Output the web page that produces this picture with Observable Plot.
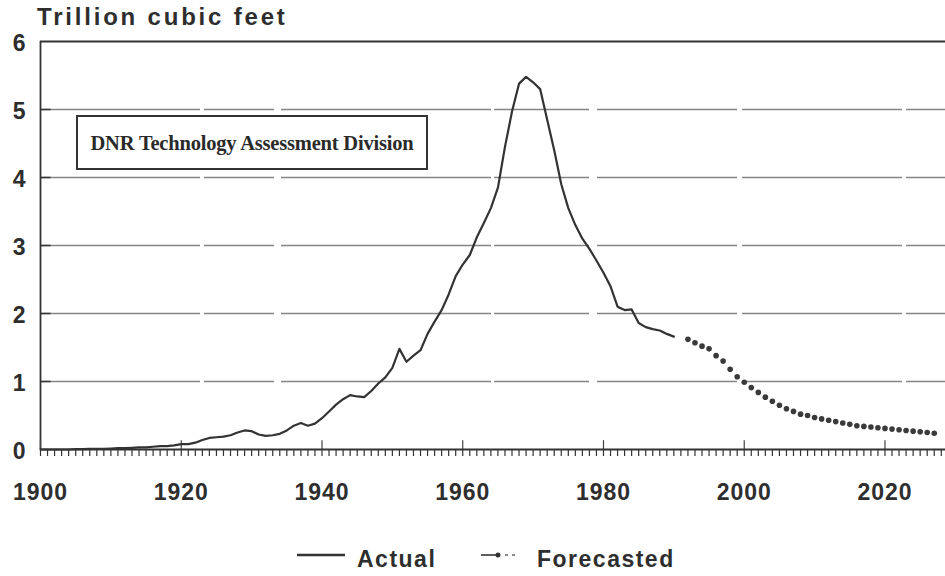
<!DOCTYPE html>
<html><head><meta charset="utf-8">
<script src="https://cdn.jsdelivr.net/npm/d3@7"></script>
<script src="https://cdn.jsdelivr.net/npm/@observablehq/plot@0.6"></script>
<style>
body{margin:0;background:#fff;}
#wrap{position:relative;width:945px;height:576px;overflow:hidden;font-family:"Liberation Sans",Arial,sans-serif;color:#2e2e2e;background:#fff;}
#chart{position:absolute;left:0;top:0;}
.title{position:absolute;left:37px;top:5px;font-size:24px;font-weight:bold;letter-spacing:2.8px;line-height:24px;white-space:nowrap;}
.box{position:absolute;left:76px;top:115px;width:352px;height:55px;border:2px solid #333;box-sizing:border-box;background:#fff;
 font-family:"Liberation Serif","Times New Roman",serif;font-weight:bold;font-size:20.5px;letter-spacing:-0.2px;display:flex;align-items:center;justify-content:center;white-space:nowrap;color:#2a2a2a;padding-top:2px;}
.leg{position:absolute;font-size:23px;font-weight:bold;letter-spacing:1.5px;line-height:23px;white-space:nowrap;}
#legsym{position:absolute;left:0;top:540px;}
</style>
</head><body>
<div id="wrap">
  <div id="chart"></div>
  <div class="title">Trillion cubic feet</div>
  <div class="box">DNR Technology Assessment Division</div>
  <svg id="legsym" width="945" height="30">
    <line x1="297" x2="345" y1="15" y2="15" stroke="#333" stroke-width="2.4"/>
    <line x1="481" x2="496" y1="15" y2="15" stroke="#333" stroke-width="1.6"/>
    <circle cx="498" cy="15" r="2.5" fill="#333"/>
    <line x1="505" x2="508" y1="15" y2="15" stroke="#555" stroke-width="1.4"/>
    <line x1="512" x2="515" y1="15" y2="15" stroke="#555" stroke-width="1.4"/>
  </svg>
  <div class="leg" style="left:357px;top:548px;">Actual</div>
  <div class="leg" style="left:537px;top:548px;">Forecasted</div>
</div>
<script>
// Actual production, 1900–1990 (trillion cubic feet)
const actualYears = d3.range(1900, 1991);
const actualValues = [
  0.00,0.00,0.00,0.00,0.00,0.005,0.005,0.01,0.01,0.01,      // 1900-1909
  0.015,0.02,0.02,0.025,0.03,0.03,0.04,0.05,0.05,0.06,      // 1910-1919
  0.08,0.08,0.10,0.14,0.17,0.18,0.19,0.21,0.25,0.28,        // 1920-1929
  0.27,0.22,0.20,0.21,0.23,0.28,0.35,0.39,0.35,0.38,        // 1930-1939
  0.46,0.56,0.66,0.74,0.80,0.78,0.77,0.86,0.97,1.06,        // 1940-1949
  1.20,1.48,1.29,1.38,1.46,1.70,1.88,2.05,2.28,2.55,        // 1950-1959
  2.72,2.86,3.12,3.33,3.55,3.85,4.45,4.97,5.38,5.48,        // 1960-1969
  5.40,5.30,4.85,4.40,3.90,3.55,3.30,3.10,2.95,2.78,        // 1970-1979
  2.60,2.40,2.10,2.05,2.06,1.86,1.80,1.77,1.75,1.70,        // 1980-1989
  1.66                                                      // 1990
];
// Forecast, 1992–2027
const forecastYears = d3.range(1992, 2028);
const forecastValues = [
  1.62,1.57,1.52,1.48,1.38,1.30,1.18,1.07,0.99,0.91,
  0.84,0.77,0.71,0.65,0.60,0.56,0.52,0.50,0.47,0.45,
  0.43,0.41,0.39,0.37,0.35,0.34,0.33,0.32,0.31,0.30,
  0.29,0.28,0.27,0.26,0.25,0.24
];
const majorYears = [1900, 1920, 1940, 1960, 1980, 2000, 2020];
const minorYears = d3.range(1900, 2029);
const yTicks = [0, 1, 2, 3, 4, 5, 6];
const gridValues = [1, 2, 3, 4, 5];

const actual = actualYears.map((year, i) => ({year, value: actualValues[i]}));
const forecast = forecastYears.map((year, i) => ({year, value: forecastValues[i]}));

const xMax = 2028.6;
const chart = Plot.plot({
  width: 945,
  height: 510,
  marginLeft: 40,
  marginRight: 0,
  marginTop: 41,
  marginBottom: 61,
  x: {domain: [1900, xMax], label: null},
  y: {domain: [0, 6], label: null},
  style: "font-family:'Liberation Sans',Arial,sans-serif;font-weight:bold;letter-spacing:1px;color:#2e2e2e;background:transparent;overflow:visible;",
  marks: [
    Plot.ruleY(gridValues, {x1: 1900, x2: xMax, stroke: "#707070", strokeWidth: 1.4, strokeDasharray: "160,4,70,7,210,3,95,8,140,5", strokeOpacity: 0.85}),
    Plot.ruleY(gridValues, {x1: 1900, x2: 1901.5, stroke: "#333", strokeWidth: 1.5}),
    Plot.ruleY([6], {x1: 1900, x2: xMax, stroke: "#333", strokeWidth: 2}),
    Plot.ruleX([1900], {y1: 0, y2: 6, stroke: "#333", strokeWidth: 1.8}),
    Plot.axisX({ticks: minorYears, tickSize: 7, tickFormat: () => "", stroke: "#333", strokeWidth: 1.2, label: null}),
    Plot.ruleX(majorYears, {y1: 0, y2: 0.13, stroke: "#444", strokeWidth: 1.2}),
    Plot.axisX({ticks: majorYears, tickSize: 0, tickPadding: 34, fontSize: 23, tickFormat: d => String(d), label: null}),
    Plot.axisY({ticks: yTicks, tickSize: 0, tickPadding: 14, fontSize: 23, dy: 2, tickFormat: d => String(d), label: null}),
    Plot.ruleY([0], {x1: 1900, x2: xMax, stroke: "#333", strokeWidth: 2}),
    Plot.line(actual, {x: "year", y: "value", stroke: "#333", strokeWidth: 2.2}),
    Plot.dot(forecast, {x: "year", y: "value", r: 2.8, fill: "#3a3a3a", stroke: "none"})
  ]
});
document.getElementById("chart").appendChild(chart);
</script>
</body></html>
